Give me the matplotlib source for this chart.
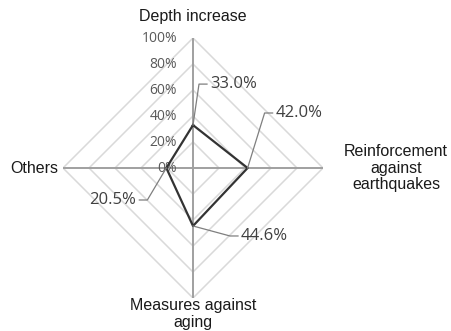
import numpy as np
import matplotlib
matplotlib.use("Agg")
import matplotlib.pyplot as plt
from matplotlib.lines import Line2D

categories = ["Depth increase", "Reinforcement\nagainst\nearthquakes",
              "Measures against\naging", "Others"]
values = [33.0, 42.0, 44.6, 20.5]
grid_levels = [20, 40, 60, 80, 100]
tick_values = [0, 20, 40, 60, 80, 100]
tick_labels = ["0%", "20%", "40%", "60%", "80%", "100%"]

angles = np.linspace(0, 2 * np.pi, len(categories), endpoint=False)

fig = plt.figure(figsize=(4.51, 3.31), dpi=100, facecolor="white")
ax = fig.add_axes([63 / 451, 33 / 331, 260 / 451, 260 / 331], projection="polar")
ax.set_theta_offset(np.pi / 2)
ax.set_theta_direction(-1)
ax.set_ylim(0, 100)
ax.grid(False)
ax.spines["polar"].set_visible(False)
ax.set_xticks([])
ax.set_yticks([])
ax.patch.set_alpha(0)

closed = np.append(angles, angles[0])

# diamond gridlines
for lvl in grid_levels:
    ax.plot(closed, [lvl] * len(closed), color="#d9d9d9", lw=1.1, zorder=1)

# spokes
for a in angles:
    ax.plot([a, a], [0, 100], color="#a0a0a0", lw=1.4, zorder=2)

# series
ax.plot(closed, np.append(values, values[0]), color="#333333", lw=1.6, zorder=4)

# radial tick labels along the top spoke
num_font = "Open Sans"
for v, lab in zip(tick_values, tick_labels):
    ax.annotate(lab, xy=(0, v), xytext=(-16, 0), textcoords="offset pixels",
                ha="right", va="center", fontsize=10, color="#595959",
                family=num_font, zorder=3)

# category labels
cat_offsets = [(0, 21, "center"), (73, 0, "center"), (0, -16, "center"), (-5, 0, "right")]
for a, lab, (dx, dy, ha) in zip(angles, categories, cat_offsets):
    ax.annotate(lab, xy=(a, 100), xytext=(dx, dy), textcoords="offset pixels",
                ha=ha, va="center", fontsize=11.5, color="#1a1a1a",
                family="Liberation Sans", multialignment="center",
                linespacing=1.1)

# data labels with leader lines (pixel offsets from each point)
leaders = [(6, 41, 1), (17, 55, 1), (37, -10, 1), (-19, -32, -1)]
fig.canvas.draw()
for a, v, (dx, dy, side) in zip(angles, values, leaders):
    px, py = ax.transData.transform((a, v))
    cx, cy = px + dx, py + dy
    ex = cx + 8 * side
    fig.add_artist(Line2D([px, cx, ex], [py, cy, cy], transform=None,
                          color="#7f7f7f", lw=0.9, zorder=5))
    fig.text((ex + 3 * side) / 451, cy / 331, f"{v:.1f}%",
             ha="left" if side > 0 else "right", va="center",
             fontsize=12, color="#404040", family=num_font)

fig.savefig("out.png", dpi=100)
